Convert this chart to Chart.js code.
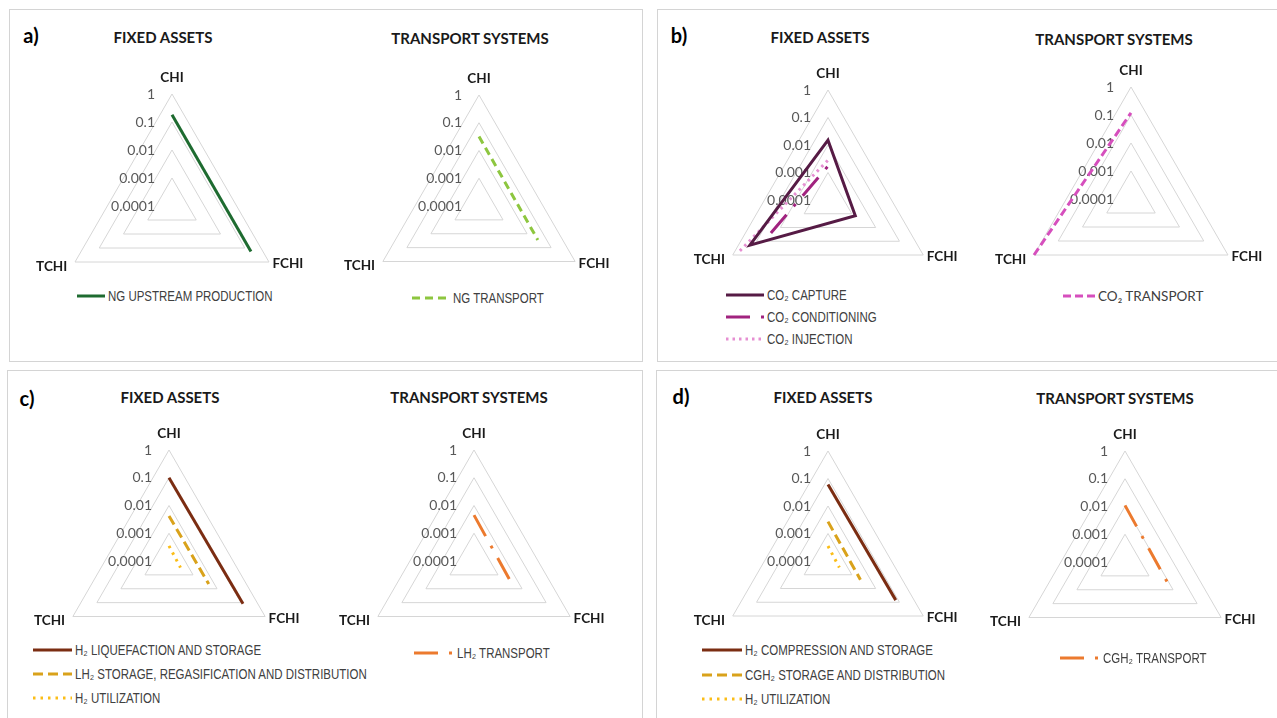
<!DOCTYPE html>
<html>
<head>
<meta charset="utf-8">
<script src="https://cdn.jsdelivr.net/npm/chart.js@4"></script>
<style>
  body { margin: 0; width: 1277px; height: 718px; background: #fff; position: relative; overflow: hidden; }
  .panel { position: absolute; border: 1px solid #d4d4d4; box-sizing: border-box; }
  .txt { position: absolute; transform: translate(-50%, -50%); white-space: nowrap; font-family: Lato, "Open Sans", sans-serif; font-weight: bold; color: #1a1a1a; line-height: 1; }
  .letter { font-size: 20px; color: #000; }
  .title { font-size: 15px; }
  canvas { position: absolute; }
  .row { position: absolute; height: 18px; display: flex; align-items: center; white-space: nowrap; }
  .row svg { margin-right: 3px; flex: none; }
  .row span { display: inline-block; font-family: "Liberation Sans", Arial, sans-serif; font-size: 14px; color: #404040; transform: scaleX(0.82); transform-origin: left center; }
  .row span.plain { font-family: Lato, "Open Sans", sans-serif; font-size: 13.5px; transform: none; }
</style>
</head>
<body>
<script>
// axes of every radar, clockwise from the top
var axes = ['CHI', 'FCHI', 'TCHI'];
var tickLabels = ['0.0001', '0.001', '0.01', '0.1', '1'];

// values per axis [CHI, FCHI, TCHI]; null = not plotted (zero on log axis)
var ngUpstream = [0.18, 0.18, null];
var ngTransport = [0.032, 0.028, null];
var co2Capture = [0.015, 0.0014, 0.19];
var co2Conditioning = [0.0017, null, 0.025];
var co2Injection = [0.0028, null, 0.5];
var co2Transport = [0.12, null, 1];
var h2Liquefaction = [0.1, 0.12, null];
var lh2Storage = [0.0042, 0.0045, null];
var h2UtilizationC = [0.00035, 0.0003, null];
var lh2Transport = [0.0045, 0.0035, null];
var h2Compression = [0.06, 0.07, null];
var cgh2Storage = [0.0027, 0.0023, null];
var h2UtilizationD = [0.00035, 0.0003, null];
var cgh2Transport = [0.011, 0.008, null];

// panel frames and headings
var panels = [[9, 9, 634, 353], [657, 9, 622, 353], [7, 370, 636, 352], [656, 370, 623, 352]];
var headings = [
    ['a)', 31, 35, 'letter'], ['FIXED ASSETS', 163, 37, 'title'], ['TRANSPORT SYSTEMS', 470, 38, 'title'],
    ['b)', 679, 35, 'letter'], ['FIXED ASSETS', 820, 37, 'title'], ['TRANSPORT SYSTEMS', 1114, 39, 'title'],
    ['c)', 27, 398, 'letter'], ['FIXED ASSETS', 170, 397, 'title'], ['TRANSPORT SYSTEMS', 469, 397, 'title'],
    ['d)', 681, 396, 'letter'], ['FIXED ASSETS', 823, 397, 'title'], ['TRANSPORT SYSTEMS', 1115, 398, 'title']
];

panels.forEach(function (p) {
    var d = document.createElement('div');
    d.className = 'panel';
    d.style.left = p[0] + 'px'; d.style.top = p[1] + 'px';
    d.style.width = p[2] + 'px'; d.style.height = p[3] + 'px';
    document.body.appendChild(d);
});
headings.forEach(function (h) {
    var d = document.createElement('div');
    d.className = 'txt ' + h[3];
    d.textContent = h[0];
    d.style.left = h[1] + 'px'; d.style.top = h[2] + 'px';
    document.body.appendChild(d);
});

var solid = [];
var dashDot = [24, 11, 3, 11];

var radars = [
    { cx: 172, cy: 206, r: 112, legend: { x: 108, y: 296, gap: 0, len: 28 },
      series: [{ label: 'NG UPSTREAM PRODUCTION', values: ngUpstream, color: '#1e6b30', width: 3, dash: solid }] },
    { cx: 479, cy: 206, r: 111, legend: { x: 453, y: 298, gap: 0, len: 38 },
      series: [{ label: 'NG TRANSPORT', values: ngTransport, color: '#8dc63f', width: 3, dash: [8, 5] }] },
    { cx: 828, cy: 200, r: 110, legend: { x: 767, y: 295, gap: 22, len: 38 },
      series: [
          { label: 'CO₂ CAPTURE', values: co2Capture, color: '#561b45', width: 3, dash: solid },
          { label: 'CO₂ CONDITIONING', values: co2Conditioning, color: '#a1237f', width: 3, dash: dashDot },
          { label: 'CO₂ INJECTION', values: co2Injection, color: '#e68fd2', width: 3, dash: [2.5, 4] }
      ] },
    { cx: 1131, cy: 199, r: 112, legend: { x: 1098, y: 296, gap: 0, len: 32, plain: true },
      series: [{ label: 'CO₂ TRANSPORT', values: co2Transport, color: '#d64fbd', width: 3, dash: [8, 4] }] },
    { cx: 169, cy: 561, r: 111, legend: { x: 75, y: 650, gap: 24, len: 39 },
      series: [
          { label: 'H₂ LIQUEFACTION AND STORAGE', values: h2Liquefaction, color: '#7b2d12', width: 3, dash: solid },
          { label: 'LH₂ STORAGE, REGASIFICATION AND DISTRIBUTION', values: lh2Storage, color: '#d9a21b', width: 3, dash: [10, 5] },
          { label: 'H₂ UTILIZATION', values: h2UtilizationC, color: '#fbbd17', width: 3, dash: [2.5, 5] }
      ] },
    { cx: 474, cy: 561, r: 111, legend: { x: 457, y: 653, gap: 0, len: 40 },
      series: [{ label: 'LH₂ TRANSPORT', values: lh2Transport, color: '#ec7a2e', width: 3, dash: dashDot }] },
    { cx: 828, cy: 561, r: 110, legend: { x: 745, y: 650, gap: 24.5, len: 40 },
      series: [
          { label: 'H₂ COMPRESSION AND STORAGE', values: h2Compression, color: '#7b2d12', width: 3, dash: solid },
          { label: 'CGH₂ STORAGE AND DISTRIBUTION', values: cgh2Storage, color: '#d9a21b', width: 3, dash: [10, 5] },
          { label: 'H₂ UTILIZATION', values: h2UtilizationD, color: '#fbbd17', width: 3, dash: [2.5, 5] }
      ] },
    { cx: 1125, cy: 562, r: 111, legend: { x: 1103, y: 658, gap: 0, len: 40 },
      series: [{ label: 'CGH₂ TRANSPORT', values: cgh2Transport, color: '#ec7a2e', width: 3, dash: dashDot }] }
];

// tick labels sit left of the CHI axis, under the lines
var leftTicks = {
    id: 'leftTicks',
    beforeDatasetsDraw: function (chart) {
        var s = chart.scales.r, ctx = chart.ctx;
        ctx.save();
        ctx.font = '14px Lato, "Open Sans", sans-serif';
        ctx.fillStyle = '#595959';
        ctx.textAlign = 'right';
        ctx.textBaseline = 'middle';
        s.ticks.forEach(function (t) {
            ctx.fillText(t.label, s.xCenter - 17, s.yCenter - s.getDistanceFromCenterForValue(t.value));
        });
        ctx.restore();
    }
};

var W = 300, H = 230, OX = 150, OY = 150;

radars.forEach(function (cfg) {
    var canvas = document.createElement('canvas');
    canvas.width = W; canvas.height = H;
    canvas.style.left = (cfg.cx - OX) + 'px';
    canvas.style.top = (cfg.cy - OY) + 'px';
    document.body.appendChild(canvas);

    var chart = new Chart(canvas, {
        type: 'radar',
        data: {
            labels: axes,
            datasets: cfg.series.map(function (s) {
                return {
                    label: s.label,
                    data: s.values.map(function (v) { return v === null ? null : Math.log10(v); }),
                    borderColor: s.color,
                    borderWidth: s.width,
                    borderDash: s.dash,
                    fill: false,
                    pointRadius: 0,
                    spanGaps: false
                };
            })
        },
        options: {
            responsive: false,
            animation: false,
            events: [],
            plugins: { legend: { display: false }, tooltip: { enabled: false } },
            scales: {
                r: {
                    min: -4,
                    max: 0,
                    ticks: { display: false, stepSize: 1, callback: function (v, i) { return tickLabels[i]; } },
                    grid: { color: '#d6d6d6', lineWidth: 1 },
                    angleLines: { display: false },
                    pointLabels: {
                        color: '#1a1a1a',
                        font: { family: 'Lato, "Open Sans", sans-serif', size: 13.5, weight: 'bold', lineHeight: 0 },
                        padding: function (ctx) { return [16, 4, 9][ctx.index]; }
                    },
                    afterSetDimensions: function (scale) {
                        scale.xCenter = OX;
                        scale.yCenter = OY;
                        scale.drawingArea = cfg.r;
                    }
                }
            }
        },
        plugins: [leftTicks]
    });

    // legend rows built from the chart's datasets
    var lg = cfg.legend;
    chart.data.datasets.forEach(function (ds, i) {
        var row = document.createElement('div');
        row.className = 'row';
        row.style.left = (lg.x - lg.len - 3) + 'px';
        row.style.top = (lg.y + i * lg.gap - 9) + 'px';
        row.innerHTML = '<svg width="' + lg.len + '" height="8"><line x1="0" y1="4" x2="' + lg.len + '" y2="4" stroke="' +
            ds.borderColor + '" stroke-width="' + ds.borderWidth + '" stroke-dasharray="' + (ds.borderDash.length ? ds.borderDash.join(' ') : 'none') +
            '"/></svg><span' + (lg.plain ? ' class="plain"' : '') + '>' + ds.label + '</span>';
        document.body.appendChild(row);
    });
});
</script>
</body>
</html>
